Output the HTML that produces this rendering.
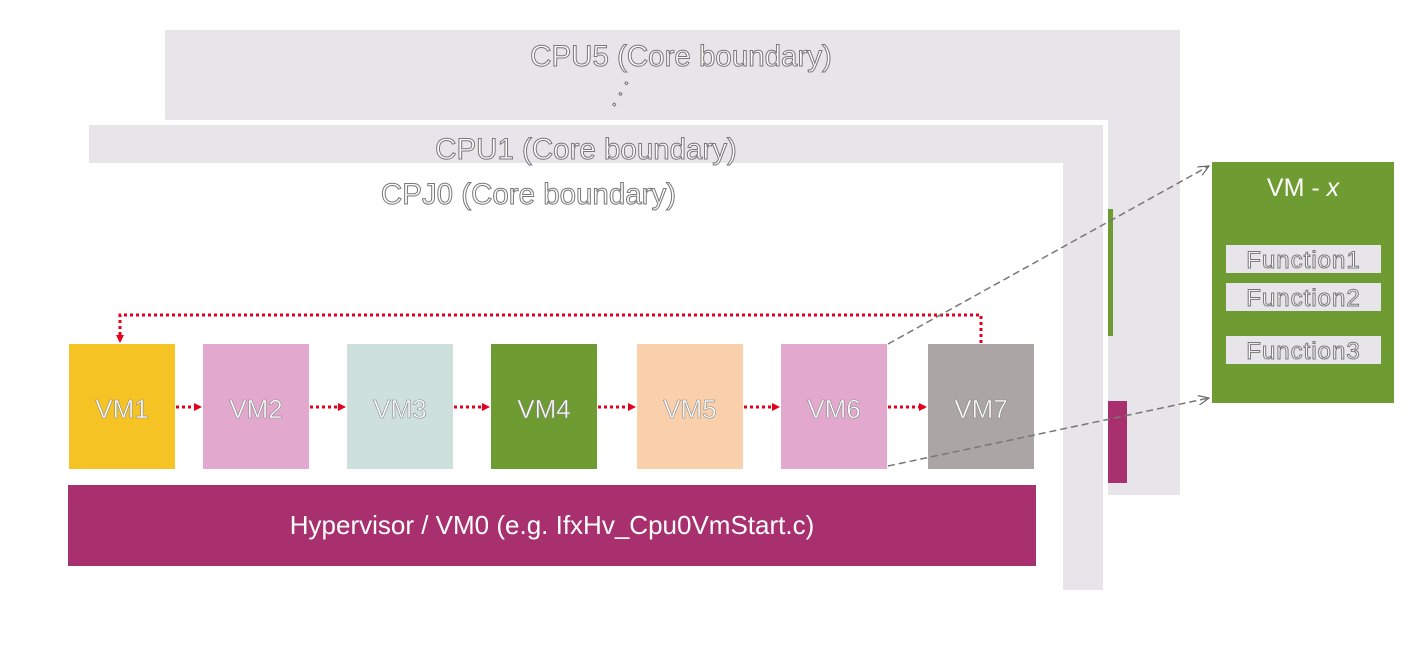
<!DOCTYPE html>
<html><head><style>
body{margin:0;width:1413px;height:646px;background:#fff;position:relative;overflow:hidden;font-family:"Liberation Sans",sans-serif}
div{position:absolute;box-sizing:border-box}
.g{background:#e7e4ea}
.ol{color:#fff;-webkit-text-stroke:1px #777;text-align:center}
.vm{top:344px;height:125px;width:106px;font-size:26px;line-height:130px;text-align:center;color:#fff;-webkit-text-stroke:0.6px #888}
.fn{left:1226px;width:155px;height:28px;background:#e7e4ea;font-size:24px;line-height:32px;letter-spacing:1px;white-space:nowrap}
</style></head><body>
<div class="g" style="left:165px;top:30px;width:1015px;height:90px"></div>
<div class="g" style="left:1108px;top:30px;width:72px;height:465px"></div>
<div class="ol" style="left:530px;top:40px;width:302px;font-size:29.5px;white-space:nowrap">CPU5 (Core boundary)</div>
<div class="ol" style="left:600px;top:78px;font-size:22px;transform:rotate(-60deg)">. . .</div>
<div class="g" style="left:89px;top:125px;width:1014px;height:38px"></div>
<div class="g" style="left:1063px;top:125px;width:40px;height:465px"></div>
<div class="ol" style="left:435px;top:133px;width:302px;font-size:29.5px;line-height:34px;white-space:nowrap">CPU1 (Core boundary)</div>
<div class="ol" style="left:377px;top:178px;width:303px;font-size:29.5px;white-space:nowrap">CPJ0 (Core boundary)</div>
<div style="left:1108px;top:209px;width:5px;height:127px;background:#6f9c32"></div>
<div style="left:1108px;top:401px;width:19px;height:82px;background:#a8306f"></div>
<div class="vm" style="left:69px;background:#f6c324">VM1</div>
<div class="vm" style="left:203px;background:#e2a8cd">VM2</div>
<div class="vm" style="left:347px;background:#cde0dc">VM3</div>
<div class="vm" style="left:491px;background:#6f9c32">VM4</div>
<div class="vm" style="left:637px;background:#f9d0ab">VM5</div>
<div class="vm" style="left:781px;background:#e2a8cd">VM6</div>
<div class="vm" style="left:928px;background:#aca5a5">VM7</div>
<div style="left:68px;top:485px;width:968px;height:81px;background:#a8306f;color:#fff;font-size:26px;line-height:81px;text-align:center">Hypervisor / VM0 (e.g. IfxHv_Cpu0VmStart.c)</div>
<div style="left:1212px;top:162px;width:182px;height:241px;background:#6f9c32"></div>
<div style="left:1212px;top:174px;width:182px;text-align:center;color:#fff;font-size:25px">VM - <i>x</i></div>
<div class="fn ol" style="top:245px">Function1</div>
<div class="fn ol" style="top:283px">Function2</div>
<div class="fn ol" style="top:336px">Function3</div>
<svg width="1413" height="646" style="position:absolute;left:0;top:0">
<defs><marker id="r" markerWidth="8" markerHeight="8" refX="6" refY="4" orient="auto" markerUnits="userSpaceOnUse"><path d="M0,0L8,4L0,8z" fill="#e3001b"/></marker>
<marker id="o" markerWidth="12" markerHeight="10" refX="11" refY="5" orient="auto" markerUnits="userSpaceOnUse"><path d="M0,0L11,5L0,10" fill="none" stroke="#666" stroke-width="1.2"/></marker></defs>
<g stroke="#e3001b" stroke-width="3" stroke-dasharray="3,3" fill="none" marker-end="url(#r)">
<line x1="176" y1="407" x2="200" y2="407"/><line x1="310" y1="407" x2="344" y2="407"/><line x1="454" y1="407" x2="488" y2="407"/><line x1="598" y1="407" x2="634" y2="407"/><line x1="744" y1="407" x2="778" y2="407"/><line x1="888" y1="407" x2="925" y2="407"/>
<polyline points="981,343 981,315 120,315 120,341"/>
</g>
<g stroke="#777" stroke-width="1.5" stroke-dasharray="7,4" fill="none" marker-end="url(#o)">
<line x1="888" y1="344" x2="1209" y2="166"/><line x1="888" y1="466" x2="1209" y2="398"/>
</g>
</svg>
</body></html>
